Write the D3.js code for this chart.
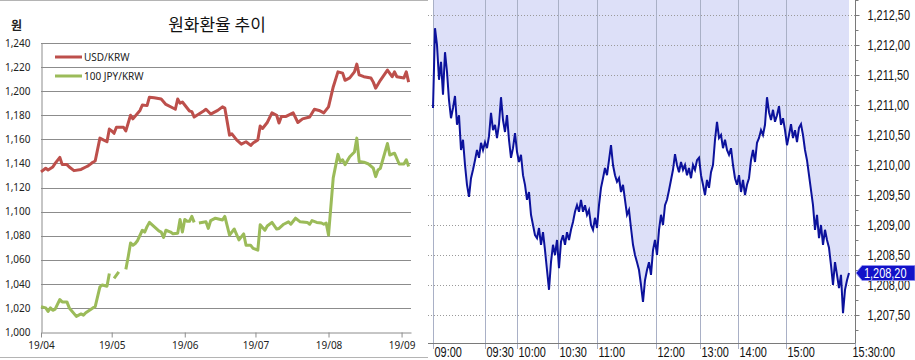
<!DOCTYPE html>
<html>
<head>
<meta charset="utf-8">
<script src="https://d3js.org/d3.v7.min.js"></script>
<style>
  body { margin: 0; background: #fff; }
  svg { display: block; }
  .lt text { font-family: "Noto Sans", sans-serif; font-size: 10px; fill: #222; }
  .rt text { font-family: "Liberation Sans", Arial, sans-serif; font-size: 14px; fill: #111; }
</style>
</head>
<body>
<svg id="chart" width="915" height="360"></svg>
<script>
// ---------- left chart: monthly KRW rates ----------
var chartTitle = "원화환율 추이";
var unitLabel = "원";
var krwTicks = [1000, 1020, 1040, 1060, 1080, 1100, 1120, 1140, 1160, 1180, 1200, 1220, 1240];
var monthTicks = ["2019-04-01", "2019-05-01", "2019-06-01", "2019-07-01", "2019-08-01", "2019-09-01"];
var seriesNames = ["USD/KRW", "100 JPY/KRW"];

var usdDates = ["04-01","04-03","04-04","04-06","04-07","04-09","04-10","04-12","04-13","04-15",
  "04-18","04-20","04-21","04-23","04-24","04-26","04-27","04-29","04-30","05-01",
  "05-02","05-03","05-06","05-07","05-09","05-10","05-13","05-14","05-16","05-17",
  "05-19","05-22","05-24","05-27","05-28","05-29","05-30","05-31","06-03","06-04",
  "06-05","06-07","06-09","06-10","06-12","06-15","06-17","06-18","06-20","06-21",
  "06-23","06-25","06-27","06-29","06-30","07-02","07-03","07-04","07-06","07-08",
  "07-10","07-11","07-12","07-14","07-17","07-19","07-21","07-24","07-26","07-28",
  "07-30","08-01","08-03","08-05","08-07","08-08","08-10","08-12","08-13","08-14",
  "08-16","08-19","08-20","08-21","08-23","08-26","08-28","08-29","08-30","09-02",
  "09-03","09-04"];
var usdValues = [1133,1136,1134.5,1137,1140,1145,1139,1139,1137,1134,
  1135,1137,1138,1141,1142,1161,1160,1158,1168.5,1167,
  1165,1170,1170,1167,1180,1177,1184,1188.5,1188,1195,
  1194.5,1193.5,1189,1186,1185,1193.5,1190,1191,1183.5,1183,
  1178.5,1181,1183.5,1185,1181,1184,1187,1186,1163.5,1164.5,
  1159.5,1156,1158,1155,1157,1159.5,1171,1169,1174,1182,
  1180,1173.5,1179,1179,1182,1174,1177,1178.5,1185,1184,
  1182,1187,1203.5,1216,1215,1209,1211,1216,1222.5,1213.5,
  1212,1211,1207.5,1202.5,1209,1217.5,1212,1216,1212,1211,
  1216,1207.5];

var jpyDates = ["04-01","04-03","04-04","04-05","04-06","04-07","04-09","04-10","04-12","04-13",
  "04-16","04-18","04-19","04-20","04-23","04-24","04-26","04-27","04-29","04-30",
  "05-01","05-02","05-04","05-05","05-07","05-08","05-09","05-10","05-11","05-12",
  "05-14","05-15","05-16","05-17","05-19","05-21","05-22","05-23","05-24","05-26",
  "05-27","05-29","05-30","05-31","06-01","06-02","06-03","06-04","06-05","06-06",
  "06-07","06-10","06-11","06-12","06-14","06-17","06-18","06-20","06-22","06-24",
  "06-26","06-27","06-29","06-30","07-02","07-03","07-05","07-06","07-08","07-10",
  "07-11","07-13","07-15","07-16","07-18","07-20","07-23","07-24","07-25","07-27",
  "07-29","07-30","07-31","08-01","08-03","08-05","08-06","08-07","08-08","08-10",
  "08-12","08-13","08-14","08-16","08-18","08-20","08-21","08-22","08-23","08-26",
  "08-27","08-29","08-31","09-02","09-03","09-04"];
var jpyValues = [1021,1020,1017,1020,1018,1019,1027,1025,1025,1020,
  1013,1015,1014,1016,1020,1021,1037.5,1039,1038,1048.5,
  null,1044.5,1050,null,1052,1062.5,1074,1072,1073.5,1076,
  1084.5,1083,1087.5,1091,1087.5,1084,1083,1078.5,1084.5,1083,
  1081.5,1082,1093.5,1083,1093.5,1092,1092,1096,1091,null,
  1090.5,1091.5,1086,1092.5,1094.5,1093,1096,1080.5,1085.5,1076.5,
  1081.5,1072,1072,1069.5,1068,1089,1084.5,1088,1091,1085.5,
  1086,1089.5,1091.5,1089.5,1094.5,1091.5,1091,1089.5,1092.5,1091,
  1090.5,1089.5,1090.5,1080.5,1128,1147.5,1141.5,1143,1139,1145.5,
  1149.5,1161,1141.5,1141,1139.5,1136,1129,1134.5,1136,1156.5,
  1147,1148.5,1139.5,1139.5,1143,1137.5];

// ---------- right chart: intraday USD/KRW ----------
var timeLabels = ["09:00", "09:30", "10:00", "10:30", "11:00", "12:00", "13:00", "14:00", "15:00", "15:30:00"];
var timeIndex = [0, 26, 42, 62.5, 82, 111.5, 133.5, 152.5, 176.5, 211];
var priceTicks = [1207.5, 1208, 1208.5, 1209, 1209.5, 1210, 1210.5, 1211, 1211.5, 1212, 1212.5];
var priceMinor = [1207.25, 1207.75, 1208.25, 1208.75, 1209.25, 1209.75, 1210.25, 1210.75, 1211.25, 1211.75, 1212.25, 1212.75];
var intraday = [1210.95,1212.28,1212.00,1211.42,1211.72,1211.17,1211.88,1211.55,1211.08,1210.78,
  1210.95,1211.15,1210.67,1210.83,1210.25,1210.42,1210.00,1209.67,1209.47,1209.78,
  1209.92,1210.08,1210.25,1210.12,1210.37,1210.25,1210.38,1210.28,1210.48,1210.87,
  1210.58,1210.67,1210.45,1210.68,1211.13,1210.75,1210.55,1210.83,1210.42,1210.12,
  1210.28,1210.53,1210.22,1210.05,1210.17,1209.83,1209.67,1209.42,1209.55,1209.17,
  1209.00,1208.83,1208.78,1208.95,1208.67,1208.88,1208.58,1208.25,1207.92,1208.38,
  1208.67,1208.50,1208.75,1208.28,1208.72,1208.83,1208.67,1208.88,1208.75,1208.92,
  1209.05,1209.22,1209.33,1209.22,1209.42,1209.22,1209.33,1209.17,1209.25,1209.00,
  1208.92,1209.12,1208.95,1209.33,1209.62,1209.78,1209.95,1209.83,1210.08,1210.33,
  1210.00,1209.83,1209.72,1209.78,1209.55,1209.67,1209.42,1209.17,1209.25,1208.95,
  1208.67,1208.50,1208.38,1208.25,1208.00,1207.72,1208.08,1208.25,1208.38,1208.17,
  1208.58,1208.75,1208.50,1208.92,1209.17,1209.00,1209.33,1209.42,1209.58,1209.75,
  1209.92,1210.18,1210.00,1209.88,1210.05,1209.92,1210.00,1209.83,1209.95,1209.78,
  1210.00,1209.92,1210.08,1210.12,1209.83,1209.67,1209.50,1209.75,1209.62,1209.88,
  1210.00,1210.42,1210.72,1210.45,1210.50,1210.28,1210.42,1210.25,1210.17,1210.28,
  1210.00,1209.78,1209.67,1209.83,1209.55,1209.75,1209.50,1209.67,1209.78,1210.08,
  1210.25,1210.05,1210.37,1210.45,1210.58,1210.50,1210.67,1211.13,1210.88,1210.75,
  1210.92,1210.72,1210.83,1210.98,1210.67,1210.78,1210.58,1210.33,1210.50,1210.68,
  1210.45,1210.58,1210.38,1210.62,1210.68,1210.50,1210.25,1210.08,1209.83,1209.58,
  1209.33,1208.92,1209.17,1208.78,1209.00,1208.67,1208.92,1208.75,1208.62,1208.33,
  1208.00,1208.38,1208.17,1207.95,1208.17,1207.53,1207.92,1208.08,1208.20];

var svg = d3.select("#chart");
var parse = d3.timeParse("%Y-%m-%d");
function toRows(dates, values) {
  return dates.map(function (d, i) { return { date: parse("2019-" + d), v: values[i] }; });
}
var usd = toRows(usdDates, usdValues);
var jpy = toRows(jpyDates, jpyValues);

// sheet borders behind the left chart
svg.append("line").attr("x1", 0).attr("x2", 428).attr("y1", 0.5).attr("y2", 0.5).attr("stroke", "#b4b4b4");
svg.append("line").attr("x1", 0).attr("x2", 428).attr("y1", 357.5).attr("y2", 357.5).attr("stroke", "#b4b4b4");

var lx = d3.scaleTime().domain([parse("2019-04-01"), parse("2019-09-05")]).range([41, 411]);
var ly = d3.scaleLinear().domain([1000, 1240]).range([332, 43]);

var left = svg.append("g").attr("class", "lt");

left.append("g").selectAll("line")
  .data(krwTicks.slice(1))
  .enter().append("line")
  .attr("x1", 41).attr("x2", 411)
  .attr("y1", function (d) { return Math.round(ly(d)) + 0.5; })
  .attr("y2", function (d) { return Math.round(ly(d)) + 0.5; })
  .attr("stroke", "#8c8c8c");

var yAxisL = left.append("g")
  .attr("transform", "translate(41.5,0)")
  .call(d3.axisLeft(ly).tickValues(krwTicks).tickFormat(d3.format(",")).tickSize(0).tickSizeOuter(0).tickPadding(11));
yAxisL.select(".domain").attr("stroke", "#8c8c8c");

var xAxisL = left.append("g")
  .attr("transform", "translate(0,332.5)")
  .call(d3.axisBottom(lx).tickValues(monthTicks.map(parse)).tickFormat(d3.timeFormat("%y/%m")).tickSize(5).tickSizeOuter(0).tickPadding(4));
xAxisL.select(".domain").attr("stroke", "#8c8c8c");
xAxisL.selectAll(".tick line").attr("stroke", "#8c8c8c");

var line = d3.line()
  .defined(function (d) { return d.v != null; })
  .x(function (d) { return lx(d.date); })
  .y(function (d) { return ly(d.v); });

var colors = ["#bd4f4b", "#9bbb59"];
[usd, jpy].forEach(function (rows, i) {
  left.append("path").datum(rows)
    .attr("d", line)
    .attr("fill", "none")
    .attr("stroke", colors[i])
    .attr("stroke-width", 3)
    .attr("stroke-linejoin", "round");
});

seriesNames.forEach(function (name, i) {
  var yy = 57 + i * 19;
  left.append("line").attr("x1", 55).attr("x2", 82).attr("y1", yy).attr("y2", yy)
    .attr("stroke", colors[i]).attr("stroke-width", 3);
  left.append("text").attr("x", 84).attr("y", yy + 3.5).text(name);
});

left.append("text").attr("x", 217).attr("y", 31)
  .attr("text-anchor", "middle")
  .style("font-family", "'Noto Sans CJK KR', sans-serif")
  .style("font-size", "17px").style("fill", "#111")
  .text(chartTitle);
left.append("text").attr("x", 11).attr("y", 30)
  .style("font-family", "'Noto Sans CJK KR', sans-serif")
  .style("font-size", "12px").style("font-weight", "bold").style("fill", "#222")
  .text(unitLabel);

// ---------- right chart ----------
var rLeft = 433, rRight = 855, rTop = 0, rBottom = 343;
var squeeze = 0.78; // narrow bitmap-like font look
var rx = d3.scaleLinear().domain([0, 211]).range([rLeft, rRight]);
var ry = d3.scaleLinear().domain([1207.5, 1212.5]).range([315, 15]);
var fmtPrice = function (v) { return d3.format(",.2f")(v).replace(".", ","); };

var right = svg.append("g").attr("class", "rt");

right.append("path").datum(intraday)
  .attr("d", d3.area()
    .x(function (d, i) { return rx(i); })
    .y0(rTop)
    .y1(function (d) { return ry(d); }))
  .attr("fill", "#dde0f8");

right.append("g").selectAll("line")
  .data(priceTicks)
  .enter().append("line")
  .attr("x1", 428).attr("x2", rRight)
  .attr("y1", function (d) { return Math.round(ry(d)) + 0.5; })
  .attr("y2", function (d) { return Math.round(ry(d)) + 0.5; })
  .attr("stroke", "#9a9a9a")
  .attr("stroke-dasharray", "1,2");

right.append("g").selectAll("line")
  .data(timeIndex)
  .enter().append("line")
  .attr("x1", function (d) { return Math.round(rx(d)) + 0.5; })
  .attr("x2", function (d) { return Math.round(rx(d)) + 0.5; })
  .attr("y1", rTop).attr("y2", rBottom + 6)
  .attr("stroke", "#a9b0c6");

right.append("line").attr("x1", 428).attr("x2", rRight + 0.5)
  .attr("y1", rBottom + 0.5).attr("y2", rBottom + 0.5).attr("stroke", "#7a7a7a");
right.append("line").attr("x1", rRight + 0.5).attr("x2", rRight + 0.5)
  .attr("y1", rTop).attr("y2", rBottom).attr("stroke", "#7a7a7a");

right.append("path").datum(intraday)
  .attr("d", d3.line()
    .x(function (d, i) { return rx(i); })
    .y(function (d) { return ry(d); }))
  .attr("fill", "none")
  .attr("stroke", "#0c129c")
  .attr("stroke-width", 2);

right.append("g").selectAll("text")
  .data(timeLabels)
  .enter().append("text")
  .attr("transform", function (d, i) {
    var tx = rx(timeIndex[i]) + (i === timeLabels.length - 1 ? -2.5 : 1.5);
    return "translate(" + tx + ",357) scale(" + squeeze + ",1)";
  })
  .text(function (d) { return d; });

var yAxisR = right.append("g")
  .attr("transform", "translate(" + (rRight + 0.5) + ",0)")
  .call(d3.axisRight(ry).tickValues(priceTicks).tickFormat(fmtPrice).tickSize(4).tickSizeOuter(0).tickPadding(8));
yAxisR.select(".domain").remove();
yAxisR.selectAll(".tick line").attr("stroke", "#7a7a7a");
yAxisR.selectAll(".tick text")
  .attr("x", 0)
  .attr("transform", "translate(12,0) scale(" + squeeze + ",1)");

var minorR = right.append("g")
  .attr("transform", "translate(" + (rRight + 0.5) + ",0)")
  .call(d3.axisRight(ry).tickValues(priceMinor).tickFormat("").tickSize(3).tickSizeOuter(0));
minorR.select(".domain").remove();
minorR.selectAll(".tick line").attr("stroke", "#7a7a7a");

// last price tag
var last = intraday[intraday.length - 1];
var ty = ry(last);
right.append("path")
  .attr("d", "M" + (rRight + 1) + "," + ty + "L" + (rRight + 7) + "," + (ty - 7.5) + "L915," + (ty - 7.5) +
             "L915," + (ty + 7.5) + "L" + (rRight + 7) + "," + (ty + 7.5) + "Z")
  .attr("fill", "#1212c8")
  .attr("stroke", "#8f8ff0");
right.append("text")
  .attr("transform", "translate(864," + ty + ") scale(" + squeeze + ",1)")
  .attr("dy", "0.36em")
  .style("fill", "#fff")
  .text(fmtPrice(last));
</script>
</body>
</html>
